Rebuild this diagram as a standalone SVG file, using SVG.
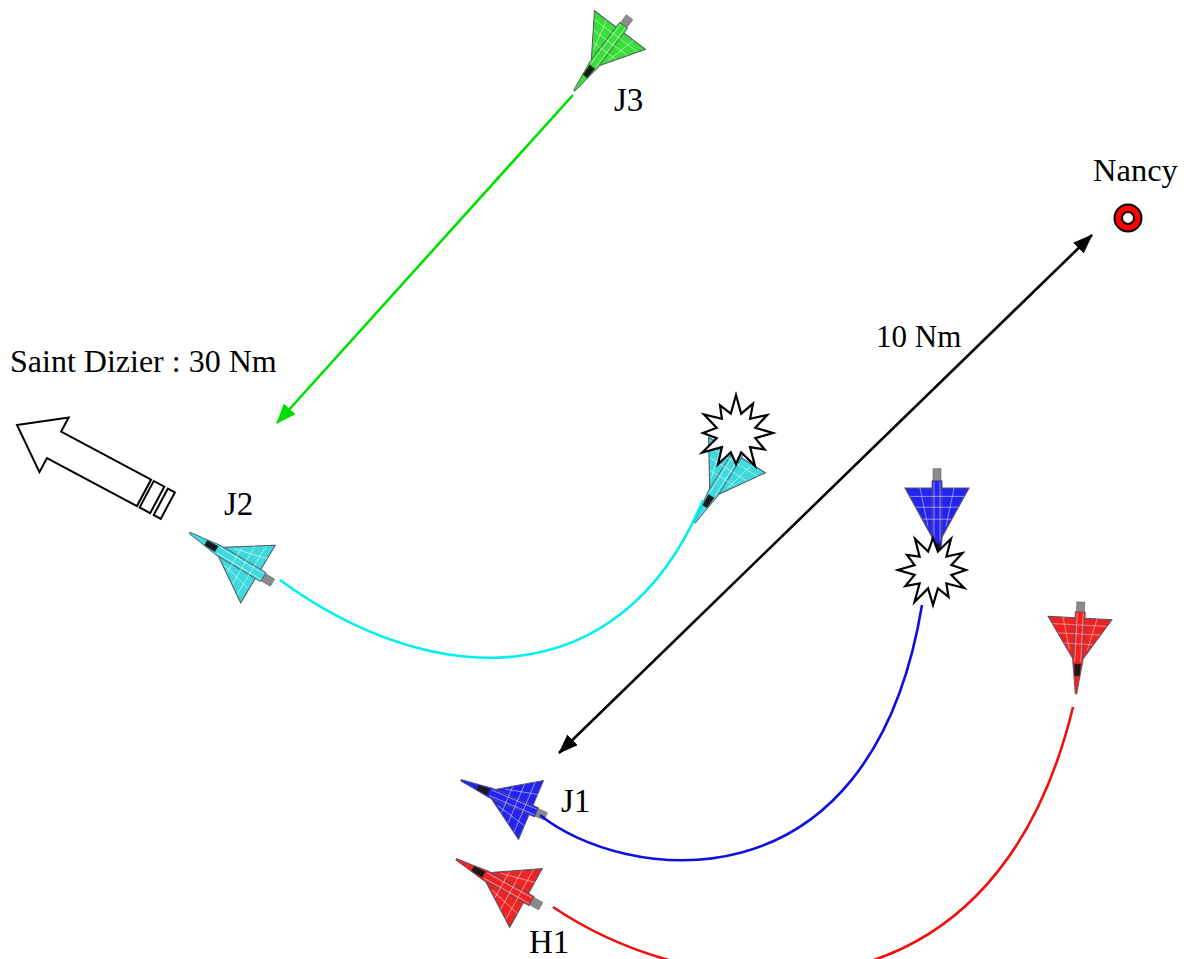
<svg xmlns="http://www.w3.org/2000/svg" xmlns:xlink="http://www.w3.org/1999/xlink" width="1186" height="959" viewBox="0 0 1186 959">
  <style>
    .lbl { font-family: "Liberation Serif", "Times New Roman", serif; font-size: 31px; fill: #000; }
    .tag { font-size: 33px; }
    .place { font-size: 32.5px; }
    .dest { font-size: 32px; }
    .trail { fill: none; stroke-width: 2.6; }
    .burst { fill: #fff; stroke: #000; stroke-width: 2.2; stroke-linejoin: miter; }
    .outline { fill: #fff; stroke: #000; stroke-width: 2; stroke-linejoin: miter; }
    .panel { fill: none; stroke: #fff; stroke-width: 0.8; stroke-opacity: 0.55; }
  </style>
  <defs>
    <marker id="head-green" markerUnits="userSpaceOnUse" markerWidth="20" markerHeight="16" viewBox="0 0 20 16" refX="19" refY="8" orient="auto">
      <path d="M0,0 L20,8 L0,16 Z" fill="#00e000"/>
    </marker>
    <marker id="head-black" markerUnits="userSpaceOnUse" markerWidth="20" markerHeight="15" viewBox="0 0 20 15" refX="19" refY="7.5" orient="auto-start-reverse">
      <path d="M0,0 L20,7.5 L0,15 Z" fill="#000"/>
    </marker>
    <!-- delta-wing fighter seen from above; nose along +y, origin at the wing trailing edge -->
    <g id="jet">
      <rect x="-4" y="-16" width="8" height="12" fill="#8a8a8a" stroke="#666" stroke-width="0.6"/>
      <path d="M-32,0 L32,0 L5,41 L-5,41 Z" fill="currentColor" stroke="#556" stroke-width="1"/>
      <path d="M-5,-6 L5,-6 L5,44 L2.5,62 L0.8,76 L-0.8,76 L-2.5,62 L-5,44 Z" fill="currentColor" stroke="#556" stroke-width="0.8"/>
      <path d="M-3.2,46 L3.2,46 L2.6,58 L-2.6,58 Z" fill="#1a1a1a"/>
      <path class="panel" d="M-27,7 L27,7 M-21,16 L21,16 M-14,26 L14,26 M-17,0 L-9,32 M17,0 L9,32 M-3,-5 L-3,44 M3,-5 L3,44"/>
    </g>
  </defs>

  <rect width="1186" height="959" fill="#fff"/>

  <!-- aircraft -->
  <g id="jet-j3" color="#3ade3a">
    <use xlink:href="#jet" href="#jet" transform="translate(620,30) rotate(37)"/>
  </g>
  <g id="jet-j2" color="#3fd9dc">
    <use xlink:href="#jet" href="#jet" transform="translate(258,574) rotate(121) scale(1.05)"/>
  </g>
  <g id="jet-j2-hit" color="#3fd9dc">
    <use xlink:href="#jet" href="#jet" transform="translate(737,455) rotate(32) scale(1.05)"/>
  </g>
  <g id="jet-blue-hit" color="#2424ee">
    <use xlink:href="#jet" href="#jet" transform="translate(937,488) scale(1,1.2)"/>
  </g>
  <g id="jet-red-far" color="#ec2424">
    <use xlink:href="#jet" href="#jet" transform="translate(1080,618) rotate(3)"/>
  </g>
  <g id="jet-j1" color="#2424ee">
    <use xlink:href="#jet" href="#jet" transform="translate(531,810) rotate(113)"/>
  </g>
  <g id="jet-h1" color="#ec2424">
    <use xlink:href="#jet" href="#jet" transform="translate(526,898) rotate(119) scale(1.05)"/>
  </g>

  <!-- tracks and distances -->
  <g id="connectors">
    <path class="trail" stroke="#00e000" d="M573,95 L277,423" marker-end="url(#head-green)"/>
    <path class="trail" stroke="#000" d="M1092,235 L559,753" marker-start="url(#head-black)" marker-end="url(#head-black)"/>
    <path class="trail" stroke="#00f0f0" stroke-width="3" d="M280,580 C430,690 620,700 703,500"/>
    <path class="trail" stroke="#1010dd" d="M540,815 C620,880 870,920 922,605"/>
    <path class="trail" stroke="#ee1010" d="M553,907 C690,1000 990,1050 1073,707"/>
  </g>

  <!-- impacts -->
  <g id="burst-1">
    <polygon class="burst" points="773,433 755.3,438.2 764.6,449.5 750.1,447.1 755,465.9 741.2,452.3 736,464 730.8,452.3 718,464.2 721.9,447.1 702.2,452.5 716.7,438.2 703,433 716.7,427.8 704,414.5 721.9,418.9 720,405.3 730.8,413.7 736,395 741.2,413.7 753,403.6 750.1,418.9 767.2,415 755.3,427.8"/>
  </g>
  <g id="burst-2">
    <polygon class="burst" points="966,570 951.4,574.9 964.2,588 946.4,583.4 948.5,596.8 937.9,588.4 933,605 928.1,588.4 914.5,602 919.6,583.4 905.3,586 914.6,574.9 898,570 914.6,565.1 907,555 919.6,556.6 915,538.8 928.1,551.6 933,538 937.9,551.6 951,538.8 946.4,556.6 962.4,553 951.4,565.1"/>
  </g>

  <!-- Nancy -->
  <g id="nancy">
    <circle cx="1128" cy="218" r="13.5" fill="#ff0000" stroke="#000" stroke-width="2"/>
    <circle cx="1128" cy="218" r="6" fill="#fff" stroke="#000" stroke-width="2"/>
    <text class="lbl place" x="1093" y="181">Nancy</text>
  </g>

  <!-- direction to Saint Dizier -->
  <g id="saint-dizier">
    <g transform="translate(17,425) rotate(28.1)">
      <path class="outline" d="M0,0 L42,-31 L42,-15 L144,-15 L144,15 L42,15 L42,31 Z"/>
      <rect class="outline" x="147" y="-15" width="12" height="30"/>
      <rect class="outline" x="163" y="-15" width="8" height="30"/>
    </g>
    <text class="lbl dest" x="10" y="372">Saint Dizier : 30 Nm</text>
  </g>

  <!-- labels -->
  <g id="labels">
    <text class="lbl tag" x="614" y="111">J3</text>
    <text class="lbl tag" x="224" y="515">J2</text>
    <text class="lbl tag" x="561" y="812">J1</text>
    <text class="lbl tag" x="529" y="953">H1</text>
    <text class="lbl" x="876" y="347">10 Nm</text>
  </g>
</svg>
